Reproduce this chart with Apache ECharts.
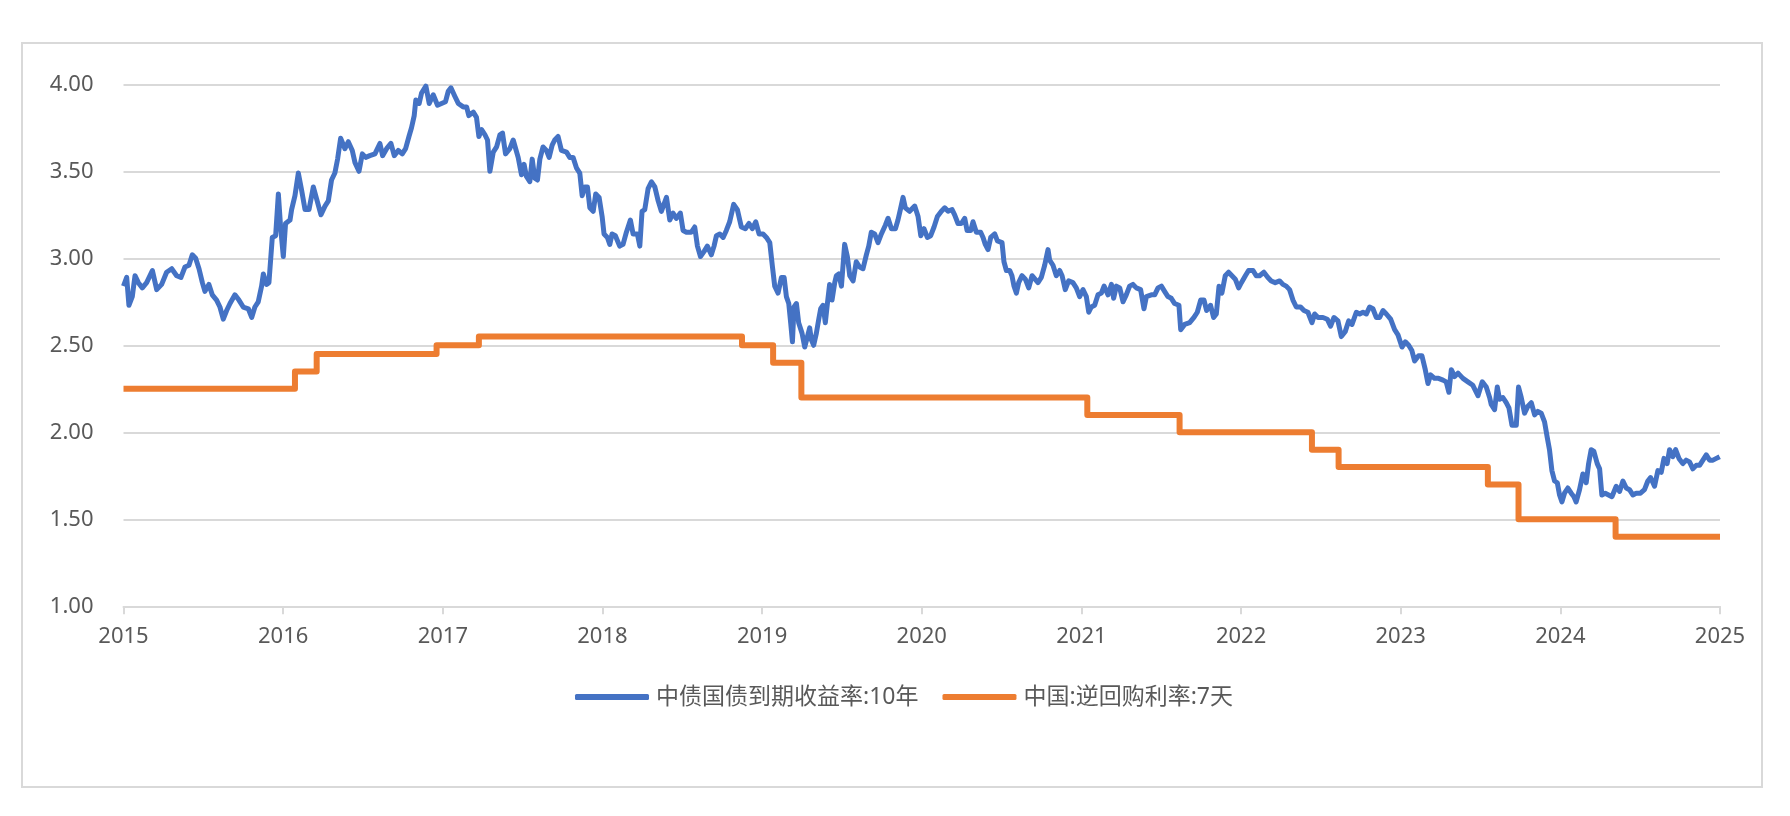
<!DOCTYPE html>
<html>
<head>
<meta charset="utf-8">
<script src="https://cdn.jsdelivr.net/npm/echarts@6/dist/echarts.min.js"></script>
<style>
  html, body { margin: 0; padding: 0; background: #ffffff; }
  #chart { width: 1790px; height: 816px; }
</style>
</head>
<body>
<div id="chart"></div>
<script>
// ---- data ----
var seriesNames = ['中债国债到期收益率:10年', '中国:逆回购利率:7天'];
var yearTicks = [2015, 2016, 2017, 2018, 2019, 2020, 2021, 2022, 2023, 2024, 2025];

var bondDates = [
2015.000,2015.020,2015.034,2015.055,2015.072,2015.093,2015.118,2015.145,2015.181,2015.208,
2015.239,2015.270,2015.302,2015.333,2015.360,2015.385,2015.410,2015.431,2015.452,2015.473,
2015.494,2015.510,2015.535,2015.556,2015.583,2015.604,2015.625,2015.646,2015.667,2015.698,
2015.723,2015.750,2015.782,2015.803,2015.823,2015.844,2015.865,2015.876,2015.896,2015.911,
2015.932,2015.953,2015.970,2015.984,2016.001,2016.015,2016.043,2016.053,2016.074,2016.095,
2016.116,2016.137,2016.162,2016.189,2016.210,2016.237,2016.262,2016.283,2016.303,2016.324,
2016.341,2016.360,2016.387,2016.408,2016.433,2016.450,2016.475,2016.496,2016.517,2016.543,
2016.575,2016.606,2016.623,2016.648,2016.675,2016.696,2016.721,2016.746,2016.767,2016.788,
2016.804,2016.821,2016.831,2016.852,2016.867,2016.894,2016.915,2016.940,2016.967,2016.992,
2017.017,2017.034,2017.051,2017.076,2017.097,2017.128,2017.149,2017.163,2017.191,2017.211,
2017.226,2017.243,2017.264,2017.280,2017.295,2017.316,2017.337,2017.358,2017.374,2017.393,
2017.420,2017.441,
2017.472,2017.493,2017.509,2017.524,2017.545,2017.560,2017.576,2017.593,2017.608,2017.628,
2017.649,2017.666,2017.685,2017.701,2017.722,2017.743,2017.775,2017.795,2017.816,2017.837,
2017.858,2017.873,2017.889,2017.906,2017.921,2017.942,2017.958,2017.979,2017.998,2018.010,
2018.031,2018.046,2018.060,2018.081,2018.108,2018.129,2018.150,2018.175,2018.192,2018.219,
2018.234,2018.248,2018.265,2018.286,2018.307,2018.328,2018.349,2018.369,2018.401,2018.422,
2018.442,2018.463,2018.488,2018.505,2018.526,2018.557,2018.578,2018.595,2018.614,2018.637,
2018.657,2018.682,2018.699,2018.714,2018.735,2018.756,2018.776,2018.797,2018.822,2018.845,
2018.870,2018.895,2018.918,2018.939,2018.960,2018.981,2019.006,2019.027,2019.048,2019.065,
2019.079,2019.100,2019.121,2019.138,2019.152,2019.167,2019.179,2019.190,2019.200,2019.215,
2019.229,2019.250,2019.267,2019.284,2019.298,2019.309,2019.323,2019.340,2019.355,2019.367,
2019.382,2019.396,2019.409,2019.423,2019.438,2019.455,2019.465,2019.480,2019.497,2019.517,
2019.534,2019.549,2019.570,2019.590,2019.611,2019.632,2019.653,2019.668,2019.684,2019.705,
2019.726,2019.747,2019.772,2019.789,2019.810,2019.835,2019.851,2019.866,2019.883,2019.897,
2019.924,2019.956,
2019.977,2019.994,2020.014,2020.035,2020.056,2020.077,2020.098,2020.123,2020.144,2020.165,
2020.190,2020.206,2020.227,2020.248,2020.269,2020.284,2020.307,2020.321,2020.342,2020.369,
2020.384,2020.398,2020.415,2020.432,2020.457,2020.474,2020.503,2020.515,2020.530,2020.551,
2020.565,2020.578,2020.593,2020.607,2020.628,2020.649,2020.670,2020.691,2020.703,2020.728,
2020.749,2020.770,2020.791,2020.801,2020.822,2020.843,2020.864,2020.879,2020.899,2020.920,
2020.947,2020.968,2020.989,2021.010,2021.031,2021.046,2021.062,2021.083,2021.104,2021.125,
2021.142,2021.167,2021.188,2021.202,2021.219,2021.240,2021.261,2021.281,2021.302,2021.323,
2021.344,2021.371,2021.392,2021.407,2021.438,2021.459,2021.480,2021.501,2021.521,2021.542,
2021.563,2021.584,2021.611,2021.622,2021.647,2021.678,2021.705,2021.726,2021.747,2021.768,
2021.784,2021.809,2021.828,2021.845,2021.862,2021.880,2021.901,2021.922,2021.943,2021.964,
2021.985,2022.002,2022.027,2022.047,2022.075,2022.095,2022.116,2022.143,2022.168,2022.189,
2022.214,2022.242,2022.262,2022.283,2022.304,2022.325,2022.346,2022.373,2022.394,2022.419,
2022.444,2022.461,
2022.482,2022.513,2022.540,2022.561,2022.582,2022.607,2022.628,2022.653,2022.674,2022.695,
2022.722,2022.743,2022.764,2022.785,2022.805,2022.826,2022.847,2022.868,2022.889,2022.910,
2022.937,2022.962,2022.983,2023.008,2023.029,2023.050,2023.070,2023.087,2023.112,2023.133,
2023.154,2023.171,2023.187,2023.212,2023.237,2023.265,2023.285,2023.302,2023.317,2023.338,
2023.359,2023.390,2023.421,2023.452,2023.484,2023.511,2023.536,2023.557,2023.567,2023.588,
2023.605,2023.619,2023.640,2023.661,2023.678,2023.697,2023.724,2023.738,2023.755,2023.776,
2023.797,2023.818,2023.839,2023.859,2023.880,2023.901,2023.918,2023.932,2023.947,2023.964,
2023.981,2023.995,2024.010,2024.026,2024.047,2024.068,2024.085,2024.099,2024.120,2024.141,
2024.162,2024.177,2024.193,2024.210,2024.231,2024.246,2024.260,2024.281,2024.302,2024.323,
2024.350,2024.371,2024.392,2024.413,2024.433,2024.454,2024.475,2024.502,2024.527,2024.548,
2024.565,2024.590,2024.611,2024.632,2024.649,2024.669,2024.684,2024.705,2024.722,2024.743,
2024.767,2024.788,2024.809,2024.830,2024.851,2024.872,2024.893,2024.914,2024.935,2024.956,
2024.977,2024.998
];

var bondYield = [
2.84,2.89,2.73,2.78,2.90,2.86,2.83,2.86,2.93,2.82,
2.85,2.92,2.94,2.90,2.89,2.95,2.96,3.02,3.00,2.94,
2.86,2.81,2.85,2.79,2.76,2.72,2.65,2.70,2.74,2.79,
2.76,2.72,2.71,2.66,2.72,2.75,2.84,2.91,2.85,2.86,
3.12,3.13,3.37,3.18,3.01,3.20,3.22,3.28,3.36,3.49,
3.39,3.28,3.28,3.41,3.34,3.25,3.30,3.33,3.45,3.49,
3.57,3.69,3.63,3.67,3.62,3.55,3.50,3.60,3.58,3.59,
3.60,3.66,3.59,3.63,3.66,3.59,3.62,3.60,3.63,3.70,
3.75,3.82,3.91,3.89,3.95,3.99,3.89,3.94,3.88,3.89,
3.90,3.96,3.98,3.93,3.89,3.87,3.87,3.82,3.84,3.81,
3.70,3.74,3.71,3.68,3.50,3.61,3.64,3.71,3.72,3.60,
3.63,3.68,
3.58,3.48,3.54,3.47,3.44,3.57,3.46,3.45,3.57,3.64,
3.62,3.58,3.65,3.68,3.70,3.62,3.61,3.58,3.58,3.52,
3.49,3.36,3.41,3.41,3.29,3.27,3.37,3.35,3.24,3.14,
3.12,3.08,3.14,3.13,3.07,3.08,3.15,3.22,3.14,3.14,
3.07,3.27,3.28,3.40,3.44,3.41,3.33,3.27,3.35,3.22,
3.26,3.23,3.26,3.16,3.15,3.15,3.18,3.07,3.01,3.04,
3.07,3.02,3.07,3.13,3.14,3.12,3.16,3.21,3.31,3.28,
3.18,3.17,3.20,3.17,3.21,3.14,3.14,3.12,3.09,2.95,
2.84,2.80,2.89,2.89,2.78,2.74,2.63,2.52,2.72,2.74,
2.63,2.57,2.49,2.55,2.60,2.53,2.50,2.57,2.65,2.71,
2.73,2.63,2.74,2.85,2.76,2.86,2.90,2.91,2.84,3.08,
3.01,2.90,2.87,2.98,2.95,2.94,3.02,3.07,3.15,3.14,
3.09,3.14,3.19,3.23,3.17,3.17,3.22,3.28,3.35,3.29,
3.27,3.30,
3.24,3.13,3.17,3.12,3.13,3.18,3.24,3.27,3.29,3.27,
3.28,3.25,3.20,3.20,3.23,3.16,3.16,3.21,3.15,3.15,
3.12,3.08,3.05,3.12,3.14,3.10,3.09,2.98,2.93,2.93,
2.90,2.84,2.80,2.86,2.90,2.88,2.83,2.90,2.90,2.86,
2.89,2.96,3.05,2.99,2.96,2.90,2.93,2.90,2.82,2.87,
2.86,2.83,2.78,2.82,2.78,2.69,2.72,2.73,2.79,2.80,
2.84,2.79,2.85,2.77,2.84,2.83,2.75,2.79,2.84,2.85,
2.83,2.82,2.71,2.78,2.79,2.79,2.83,2.84,2.81,2.78,
2.77,2.74,2.73,2.59,2.62,2.63,2.66,2.69,2.76,2.76,
2.70,2.73,2.66,2.68,2.84,2.80,2.90,2.92,2.90,2.88,
2.83,2.86,2.90,2.93,2.93,2.90,2.90,2.92,2.89,2.87,
2.86,2.87,2.85,2.84,2.82,2.76,2.72,2.72,2.70,2.69,
2.63,2.68,
2.66,2.66,2.65,2.61,2.66,2.64,2.55,2.58,2.64,2.62,
2.69,2.68,2.69,2.68,2.72,2.71,2.66,2.66,2.70,2.68,
2.65,2.59,2.56,2.49,2.52,2.50,2.47,2.41,2.44,2.44,
2.36,2.28,2.33,2.31,2.31,2.30,2.29,2.23,2.36,2.32,
2.34,2.31,2.29,2.27,2.21,2.29,2.26,2.20,2.16,2.13,
2.26,2.19,2.20,2.17,2.14,2.04,2.04,2.26,2.20,2.11,
2.15,2.17,2.10,2.12,2.11,2.06,1.97,1.90,1.78,1.72,
1.71,1.64,1.60,1.65,1.68,1.65,1.63,1.60,1.67,1.76,
1.71,1.82,1.90,1.89,1.82,1.79,1.64,1.65,1.64,1.63,
1.69,1.66,1.72,1.68,1.67,1.64,1.65,1.65,1.67,1.72,
1.74,1.69,1.78,1.77,1.85,1.82,1.90,1.86,1.90,1.85,
1.82,1.84,1.83,1.79,1.81,1.81,1.84,1.87,1.84,1.84,
1.85,1.86
];

// 7-day reverse repo rate: value valid from each date until the next one
var repoDates = [2015.000, 2016.074, 2016.210, 2016.961, 2017.226, 2018.874, 2019.069, 2019.246,
                 2021.037, 2021.615, 2022.444, 2022.611, 2023.546, 2023.738, 2024.346, 2025.000];
var repoRate  = [2.25, 2.35, 2.45, 2.50, 2.55, 2.50, 2.40, 2.20,
                 2.10, 2.00, 1.90, 1.80, 1.70, 1.50, 1.40, 1.40];

// ---- chart ----
var bondData = bondDates.map(function (d, i) { return [d, bondYield[i]]; });
var repoData = repoDates.map(function (d, i) { return [d, repoRate[i]]; });

var FONT = "'Noto Sans', 'Noto Sans CJK SC', sans-serif";
var chart = echarts.init(document.getElementById('chart'), null, { renderer: 'canvas' });

chart.setOption({
  animation: false,
  backgroundColor: '#ffffff',
  graphic: [{
    type: 'rect',
    shape: { x: 22, y: 43, width: 1740, height: 744 },
    style: { fill: 'none', stroke: '#d9d9d9', lineWidth: 2 },
    silent: true,
    z: -1
  }],
  grid: {
    left: 123.5, right: 70, top: 84.3, bottom: 209.7,
    containLabel: false,
    outerBoundsMode: 'none'
  },
  legend: {
    data: seriesNames,
    left: 575,
    top: 685,
    padding: 0,
    orient: 'horizontal',
    icon: 'roundRect',
    itemWidth: 74,
    itemHeight: 6,
    itemGap: 24,
    textStyle: { fontFamily: FONT, fontSize: 23, color: '#595959', lineHeight: 24, padding: [0, 0, 0, 2] },
    selectedMode: false
  },
  xAxis: {
    type: 'value',
    min: 2015,
    max: 2025,
    interval: 1,
    axisLine: { show: true, lineStyle: { color: '#d9d9d9', width: 2 } },
    axisTick: { show: true, length: 8, lineStyle: { color: '#d9d9d9', width: 2 } },
    splitLine: { show: false },
    axisLabel: {
      show: true,
      margin: 19,
      fontFamily: FONT,
      fontSize: 22,
      color: '#595959',
      showMinLabel: true,
      showMaxLabel: true,
      formatter: function (v) { return String(Math.round(v)); }
    }
  },
  yAxis: {
    type: 'value',
    min: 1,
    max: 4,
    interval: 0.5,
    axisLine: { show: false },
    axisTick: { show: false },
    splitLine: { show: true, lineStyle: { color: '#d9d9d9', width: 2 } },
    axisLabel: {
      margin: 30,
      fontFamily: FONT,
      fontSize: 22,
      color: '#595959',
      formatter: function (v) { return v.toFixed(2); }
    }
  },
  series: [
    {
      name: seriesNames[0],
      type: 'line',
      data: bondData,
      showSymbol: false,
      symbol: 'none',
      color: '#4472C4',
      lineStyle: { color: '#4472C4', width: 5, join: 'round' },
      z: 3
    },
    {
      name: seriesNames[1],
      type: 'line',
      data: repoData,
      step: 'end',
      showSymbol: false,
      symbol: 'none',
      color: '#ED7D31',
      lineStyle: { color: '#ED7D31', width: 6, join: 'round' },
      z: 2
    }
  ]
});
</script>
</body>
</html>
